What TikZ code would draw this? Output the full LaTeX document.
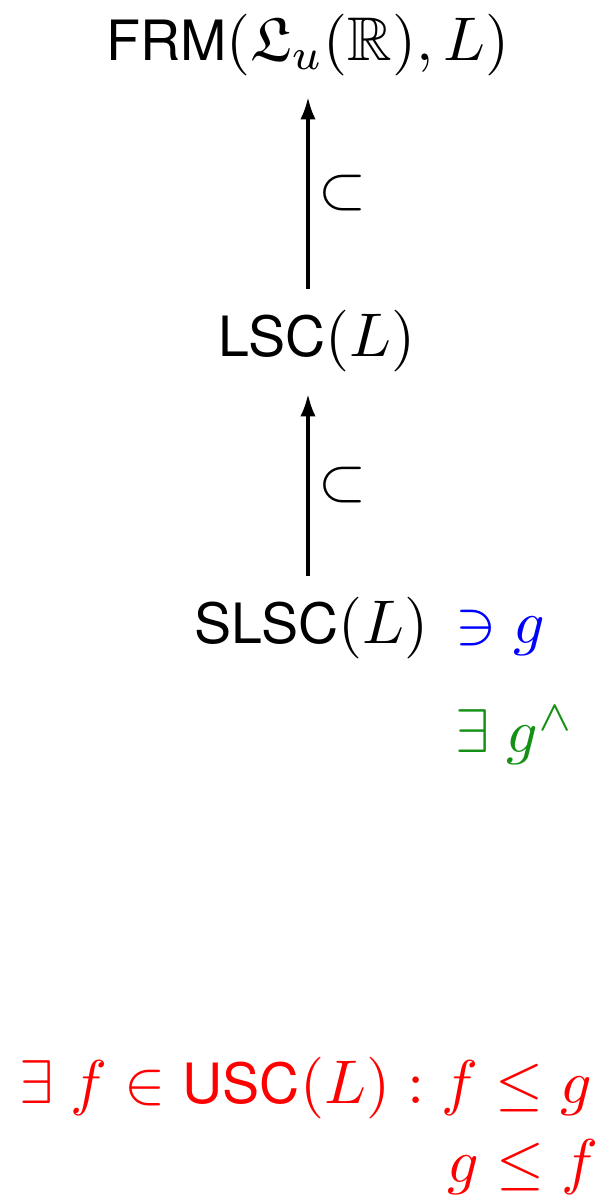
\documentclass[tikz,border=0pt]{standalone}
\usepackage{amsmath, amssymb}
\usepackage{fontspec}
\setsansfont[Scale=0.9]{TeX Gyre Heros}
\usetikzlibrary{arrows.meta}
\definecolor{memberBlue}{RGB}{0, 0, 255}
\definecolor{existGreen}{RGB}{20, 145, 20}

\begin{document}
\begin{tikzpicture}[>={Latex[length=3.6pt,width=2.5pt]}, incl/.style={->, line width=0.5pt}]
    \useasboundingbox (0,0) rectangle (3.497,6.834);
    \node[anchor=base] (frm) at (1.754,6.492) {$\textsf{FRM}(\mathfrak{L}_u(\mathbb{R}), L)$};
    \node[anchor=base] (lsc) at (1.805,4.801) {$\textsf{LSC}(L)$};
    \node[anchor=base west] (slsc) at (0.983,3.167) {$\textsf{SLSC}(L)$};
    \node[anchor=base west, memberBlue] (ni) at (2.47,3.167) {$\ni g$};
    \node[anchor=base west, existGreen] (gwedge) at (2.47,2.546) {$\exists\; g^{\wedge}$};
    \node[anchor=base east, red] (usc) at (3.497,0.547) {$\exists\; f \in \textsf{USC}(L) : f \leq g$};
    \node[anchor=base east, red] (leq) at (3.53,0.097) {$g \leq f$};
    \coordinate (ax) at (1.754,0);
    \draw[incl] (slsc.north -| ax) -- node[right, inner sep=1.5pt] {$\subset$} (lsc.south -| ax);
    \draw[incl] (lsc.north -| ax) -- node[right, inner sep=1.5pt] {$\subset$} (frm.south -| ax);
  \end{tikzpicture}
\end{document}
